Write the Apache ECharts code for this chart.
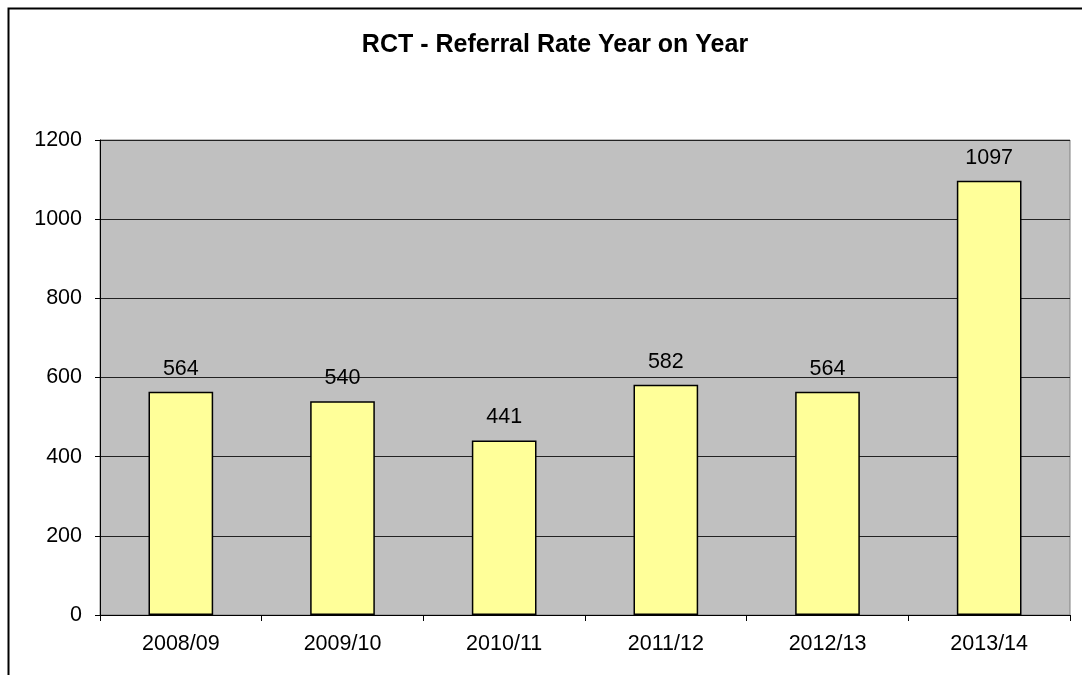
<!DOCTYPE html>
<html><head><meta charset="utf-8">
<script src="https://cdn.jsdelivr.net/npm/echarts@6/dist/echarts.min.js"></script>
<style>html,body{margin:0;padding:0;background:#fff}#c{width:1082px;height:675px}</style>
</head><body><div id="c"></div>
<script>
const categories = ['2008/09','2009/10','2010/11','2011/12','2012/13','2013/14'];
const referrals = [564, 540, 441, 582, 564, 1097];
const yTicks = [0, 200, 400, 600, 800, 1000, 1200];
const titleText = 'RCT - Referral Rate Year on Year';

const font = 'Liberation Sans, Arial, sans-serif';
const chart = echarts.init(document.getElementById('c'), null, {renderer:'canvas'});
chart.setOption({
  backgroundColor: '#ffffff',
  animation: false,
  title: {
    text: titleText, left: 550, top: 28, textAlign: 'center',
    textStyle: {fontFamily: font, fontSize: 25, fontWeight: 'bold', color: '#000'}
  },
  graphic: [{
    type: 'rect', left: 6, top: 6, silent: true,
    shape: {width: 1100, height: 700},
    style: {fill: 'none', stroke: '#000', lineWidth: 2}
  }],
  grid: {left: 100, right: 12, top: 140, bottom: 60, show: true,
    backgroundColor: '#C0C0C0', borderColor: '#808080', borderWidth: 1},
  xAxis: {
    type: 'category', data: categories,
    axisLine: {lineStyle: {color: '#000', width: 1}},
    axisTick: {show: true, alignWithLabel: false, length: 6, lineStyle: {color: '#000'}},
    axisLabel: {fontFamily: font, fontSize: 21.5, color: '#000', margin: 18}
  },
  yAxis: {
    type: 'value', min: yTicks[0], max: yTicks[yTicks.length-1], interval: 200,
    axisLine: {show: true, lineStyle: {color: '#000', width: 1}},
    axisTick: {show: true, length: 5, lineStyle: {color: '#000'}},
    axisLabel: {fontFamily: font, fontSize: 21.5, color: '#000', margin: 18,
      formatter: function (v) { return String(v); }},
    splitLine: {lineStyle: {color: '#222', width: 1}}
  },
  series: [{
    type: 'bar', data: referrals, barCategoryGap: '60%',
    itemStyle: {color: '#FFFF99', borderColor: '#000', borderWidth: 1.5},
    label: {show: true, position: 'top', distance: 12, fontFamily: font, fontSize: 21.5, color: '#000'}
  }]
});
</script></body></html>
